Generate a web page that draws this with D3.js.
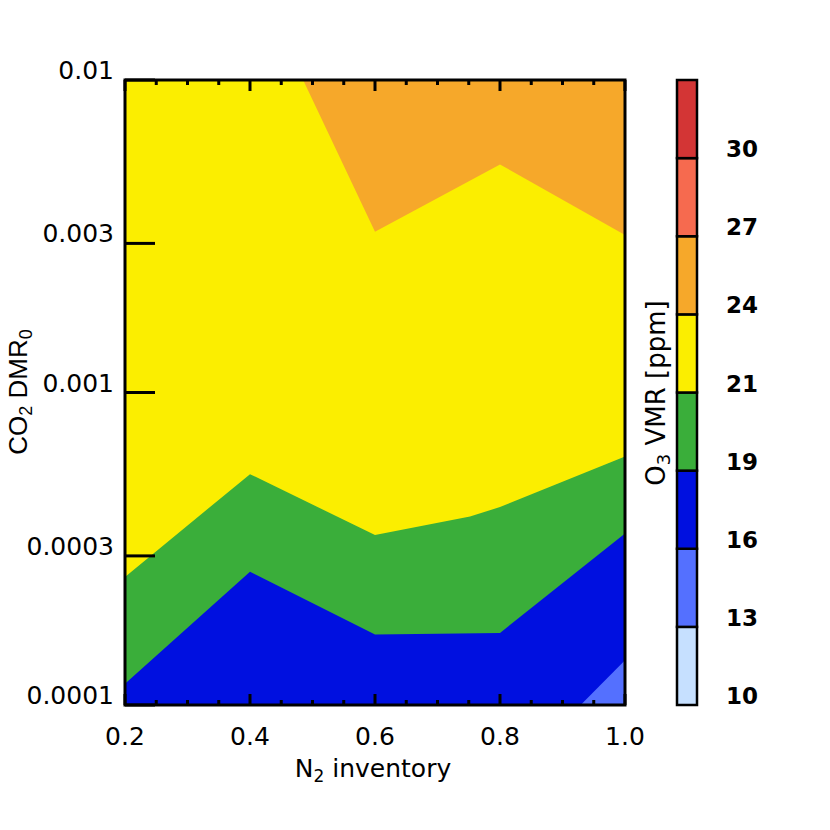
<!DOCTYPE html>
<html>
<head>
<meta charset="utf-8">
<script src="https://cdn.jsdelivr.net/npm/d3@7"></script>
<style>
  body { margin: 0; background: #fff; }
  svg { display: block; }
</style>
</head>
<body>
<svg width="830" height="830"></svg>
<script>
// axis ticks
const n2Ticks = [0.2, 0.4, 0.6, 0.8, 1.0];
const co2Ticks = [0.0001, 0.0003, 0.001, 0.003, 0.01];
const co2TickLabels = ['0.0001', '0.0003', '0.001', '0.003', '0.01'];

// O3 contour levels (ppm) and their fill colours
const levels = [10, 13, 16, 19, 21, 24, 27, 30];
const levelColors = ['#c6e0ff', '#5470ff', '#0010e0', '#3aae3a', '#fbee00', '#f6a82a', '#f66a4f', '#d33535'];

// contour boundaries: [N2 inventory, CO2 DMR0]
const edge16 = [[0.929, 1.0e-4], [1.0, 1.39e-4]];
const edge19 = [[0.2, 1.17e-4], [0.4, 2.67e-4], [0.6, 1.68e-4], [0.8, 1.70e-4], [1.0, 3.54e-4]];
const edge21 = [[0.2, 2.57e-4], [0.4, 5.48e-4], [0.6, 3.50e-4], [0.752, 4.01e-4], [0.8, 4.30e-4], [1.0, 6.24e-4]];
const edge24 = [[0.485, 1.0e-2], [0.6, 3.27e-3], [0.8, 5.37e-3], [1.0, 3.19e-3]];

const svg = d3.select('svg');
const tickFont = '"DejaVu Sans", sans-serif';

const x = d3.scaleLinear().domain([0.2, 1.0]).range([125, 625]);
const y = d3.scaleLog().domain([1e-4, 1e-2]).range([705, 80]);

const line = d3.line()
        .x(d => x(d[0]))
        .y(d => y(d[1]));

// background band (16-19) then regions layered on top
svg.append('rect')
        .attr('x', x(0.2))
        .attr('y', y(1e-2))
        .attr('width', x(1.0) - x(0.2))
        .attr('height', y(1e-4) - y(1e-2))
        .attr('fill', levelColors[2]);

const regions = [
    { pts: edge19.concat([[1.0, 1e-2], [0.2, 1e-2]]), color: levelColors[3] },
    { pts: edge21.concat([[1.0, 1e-2], [0.2, 1e-2]]), color: levelColors[4] },
    { pts: edge24.concat([[1.0, 1e-2]]), color: levelColors[5] },
    { pts: edge16.concat([[1.0, 1e-4]]), color: levelColors[1] }
];

svg.append('g')
        .selectAll('path')
        .data(regions)
        .enter().append('path')
        .attr('d', d => line(d.pts) + 'Z')
        .attr('fill', d => d.color);

// x ticks, bottom and top, minor every 0.05
const xMinor = d3.range(0.2, 1.0001, 0.05);
const tickG = svg.append('g')
        .attr('stroke', '#000')
        .attr('stroke-width', 3);

xMinor.forEach(v => {
    const major = n2Ticks.some(t => Math.abs(t - v) < 1e-6);
    const len = major ? 11 : 5;
    tickG.append('line')
            .attr('x1', x(v)).attr('x2', x(v))
            .attr('y1', y(1e-4)).attr('y2', y(1e-4) - len);
    tickG.append('line')
            .attr('x1', x(v)).attr('x2', x(v))
            .attr('y1', y(1e-2)).attr('y2', y(1e-2) + len);
});

co2Ticks.forEach(v => {
    tickG.append('line')
            .attr('x1', x(0.2)).attr('x2', x(0.2) + 30)
            .attr('y1', y(v)).attr('y2', y(v));
});

// frame
svg.append('rect')
        .attr('x', x(0.2))
        .attr('y', y(1e-2))
        .attr('width', x(1.0) - x(0.2))
        .attr('height', y(1e-4) - y(1e-2))
        .attr('fill', 'none')
        .attr('stroke', '#000')
        .attr('stroke-width', 3);

// tick labels
svg.append('g')
        .selectAll('text')
        .data(n2Ticks)
        .enter().append('text')
        .attr('x', d => x(d))
        .attr('y', 745)
        .attr('text-anchor', 'middle')
        .style('font', '25px ' + tickFont)
        .text(d => d.toFixed(1));

svg.append('g')
        .selectAll('text')
        .data(co2Ticks)
        .enter().append('text')
        .attr('x', 114)
        .attr('y', d => y(d) - 1)
        .attr('text-anchor', 'end')
        .style('font', '25px ' + tickFont)
        .text((d, i) => co2TickLabels[i]);

// axis titles
const xTitle = svg.append('text')
        .attr('x', 373)
        .attr('y', 777)
        .attr('text-anchor', 'middle')
        .style('font', '25px ' + tickFont);
xTitle.append('tspan').text('N');
xTitle.append('tspan').attr('dy', 5).style('font-size', '17px').text('2');
xTitle.append('tspan').attr('dy', -5).text(' inventory');

const yTitle = svg.append('text')
        .attr('transform', 'translate(27,392) rotate(-90)')
        .attr('text-anchor', 'middle')
        .style('font', '26px "Liberation Sans", Arial, sans-serif');
yTitle.append('tspan').text('CO');
yTitle.append('tspan').attr('dy', 5).style('font-size', '18px').text('2');
yTitle.append('tspan').attr('dy', -5).text(' DMR');
yTitle.append('tspan').attr('dy', 5).style('font-size', '18px').text('0');

// colour bar
const cb = d3.scaleLinear().domain([0, levels.length]).range([705, 80]);

svg.append('g')
        .selectAll('rect')
        .data(levels)
        .enter().append('rect')
        .attr('x', 677)
        .attr('y', (d, i) => cb(i + 1))
        .attr('width', 20)
        .attr('height', (d, i) => cb(i) - cb(i + 1))
        .attr('fill', (d, i) => levelColors[i])
        .attr('stroke', '#000')
        .attr('stroke-width', 2.5);

svg.append('g')
        .selectAll('text')
        .data(levels)
        .enter().append('text')
        .attr('x', 726)
        .attr('y', (d, i) => cb(i) - 1)
        .style('font', 'bold 23px ' + tickFont)
        .text(d => d);

const cbTitle = svg.append('text')
        .attr('transform', 'translate(665,393) rotate(-90)')
        .attr('text-anchor', 'middle')
        .style('font', '26px ' + tickFont);
cbTitle.append('tspan').text('O');
cbTitle.append('tspan').attr('dy', 5).style('font-size', '18px').text('3');
cbTitle.append('tspan').attr('dy', -5).text(' VMR [ppm]');
</script>
</body>
</html>
